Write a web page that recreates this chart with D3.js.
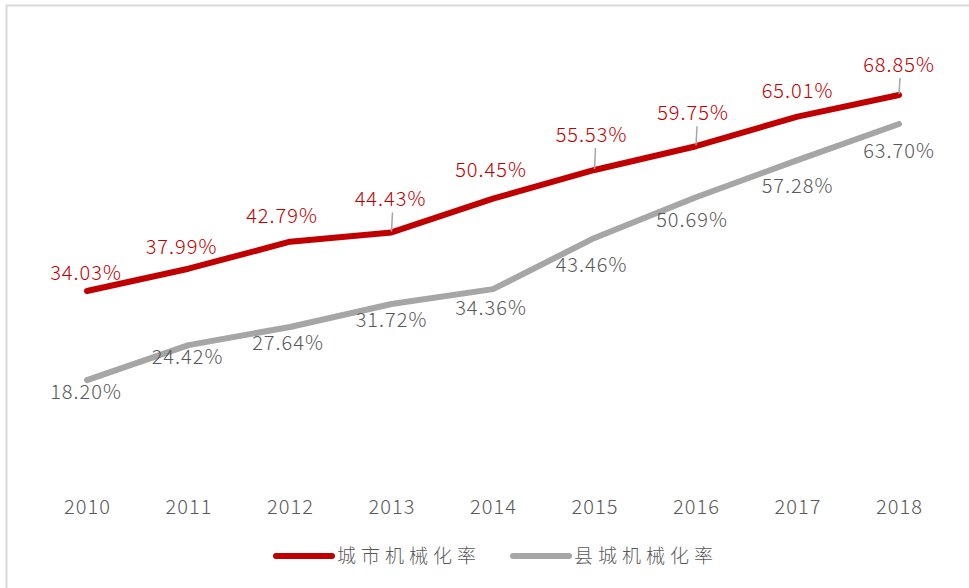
<!DOCTYPE html>
<html>
<head>
<meta charset="utf-8">
<script src="https://cdn.jsdelivr.net/npm/d3@7"></script>
<style>
  body { margin: 0; background: #fff; }
  svg text { font-family: "Noto Sans CJK SC", "Noto Sans", sans-serif; font-weight: 300; }
</style>
</head>
<body>
<div id="chart"></div>
<script>
const years = ["2010", "2011", "2012", "2013", "2014", "2015", "2016", "2017", "2018"];
const cityRate = [34.03, 37.99, 42.79, 44.43, 50.45, 55.53, 59.75, 65.01, 68.85];
const countyRate = [18.20, 24.42, 27.64, 31.72, 34.36, 43.46, 50.69, 57.28, 63.70];
const seriesNames = ["城市机械化率", "县城机械化率"];

// label placement relative to each point (layout only)
const cityLabelOffset = [[-1, -18], [-7, -22], [-8, -26], [-1, -33], [-2, -29], [-3, -35], [-3, -33], [0, -26], [0, -30]];
const countyLabelOffset = [[-1, 12], [-1, 12], [-2, 16], [0, 16], [-2, 19], [-3, 27], [-4, 23], [0, 26], [0, 27]];
const cityLeaders = [3, 5, 6, 8];

const width = 969, height = 588;
const svg = d3.select("#chart").append("svg")
  .attr("width", width)
  .attr("height", height);

// frame (top and left edges visible)
svg.append("rect")
  .attr("x", 6.5).attr("y", 5.5)
  .attr("width", 980).attr("height", 600)
  .attr("fill", "none")
  .attr("stroke", "#d9d9d9")
  .attr("stroke-width", 2);

const x = d3.scalePoint().domain(years).range([87, 899]);
const y = d3.scaleLinear().domain([0, 80]).range([482.6, 32.2]);

const xAxis = svg.append("g")
  .attr("transform", "translate(0,482.6)")
  .call(d3.axisBottom(x).tickSize(0).tickPadding(17));
xAxis.select(".domain").remove();
xAxis.selectAll("text")
  .attr("fill", "#595959")
  .attr("font-size", "20px")
  .attr("letter-spacing", "1px")
  .style("font-family", "'Noto Sans CJK SC', sans-serif")
  .style("font-weight", 300);

const line = d3.line()
  .x((d, i) => x(years[i]))
  .y(d => y(d));

const series = [
  { name: seriesNames[0], values: cityRate, color: "#c00000", text: "#c00000", off: cityLabelOffset },
  { name: seriesNames[1], values: countyRate, color: "#a6a6a6", text: "#595959", off: countyLabelOffset }
];

series.slice().reverse().forEach(s => {
  svg.append("path")
    .datum(s.values)
    .attr("d", line)
    .attr("fill", "none")
    .attr("stroke", s.color)
    .attr("stroke-width", 6)
    .attr("stroke-linejoin", "round")
    .attr("stroke-linecap", "round");
});

// leader lines for some city labels
svg.selectAll(".leader")
  .data(cityLeaders)
  .enter()
  .append("line")
  .attr("class", "leader")
  .attr("x1", i => x(years[i]) + 1)
  .attr("x2", i => x(years[i]))
  .attr("y1", i => y(cityRate[i]) + cityLabelOffset[i][1] + 13)
  .attr("y2", i => y(cityRate[i]) - 1)
  .attr("stroke", "#a6a6a6")
  .attr("stroke-width", 1.5);

series.forEach(s => {
  svg.selectAll(null)
    .data(s.values)
    .enter()
    .append("text")
    .attr("x", (d, i) => x(years[i]) + s.off[i][0])
    .attr("y", (d, i) => y(d) + s.off[i][1] + 7)
    .attr("text-anchor", "middle")
    .attr("font-size", "20px")
    .attr("letter-spacing", "1px")
    .attr("fill", s.text)
    .text(d => d.toFixed(2) + "%");
});

// legend
const legendX = [276, 513];
const legend = svg.selectAll(".legend")
  .data(series)
  .enter()
  .append("g")
  .attr("class", "legend")
  .attr("transform", (d, i) => `translate(${legendX[i]},556)`);

legend.append("line")
  .attr("x1", 0).attr("x2", 56)
  .attr("stroke", d => d.color)
  .attr("stroke-width", 6)
  .attr("stroke-linecap", "round");

legend.append("text")
  .attr("x", 61)
  .attr("y", 7)
  .attr("font-size", "19px")
  .attr("letter-spacing", "5px")
  .attr("fill", "#595959")
  .text(d => d.name);
</script>
</body>
</html>
